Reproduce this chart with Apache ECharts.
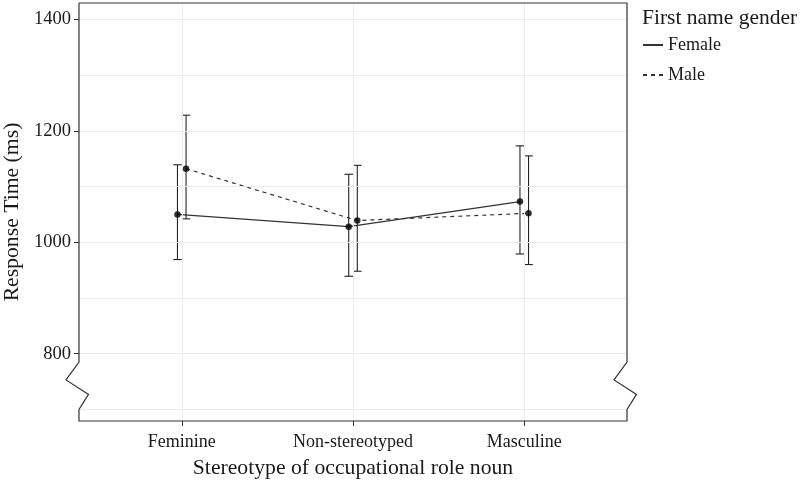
<!DOCTYPE html>
<html>
<head>
<meta charset="utf-8">
<script src="https://cdn.jsdelivr.net/npm/echarts@6/dist/echarts.min.js"></script>
<style>html,body{margin:0;padding:0;background:#fff}#c{width:800px;height:490px}</style>
</head>
<body>
<div id="c"></div>
<script>
const categories = ['Feminine', 'Non-stereotyped', 'Masculine'];
const femaleMean = [1050, 1028, 1073];
const femaleLow  = [969, 939, 979];
const femaleHigh = [1139, 1122, 1173];
const maleMean = [1132, 1039, 1052];
const maleLow  = [1042, 948, 960];
const maleHigh = [1228, 1138, 1155];
const yTickLabels = [800, 1000, 1200, 1400];
const yGridValues = [700, 800, 900, 1000, 1100, 1200, 1300, 1400];
const xPositions = [1, 2, 3];
const dodge = 0.025;

const FONT = '"Liberation Serif", "Times New Roman", serif';
const TXT = '#1a1a1a';
const YMIN = 679.3, YMAX = 1429.3;

const fPts = categories.map((c, i) => [xPositions[i] - dodge, femaleMean[i]]);
const mPts = categories.map((c, i) => [xPositions[i] + dodge, maleMean[i]]);
const fErr = categories.map((c, i) => [xPositions[i] - dodge, femaleLow[i], femaleHigh[i]]);
const mErr = categories.map((c, i) => [xPositions[i] + dodge, maleLow[i], maleHigh[i]]);

function errRender(params, api) {
  const x = api.value(0);
  const lo = api.coord([x, api.value(1)]);
  const hi = api.coord([x, api.value(2)]);
  const hw = api.size([dodge, 0])[0];
  const st = { stroke: '#222', lineWidth: 1.1 };
  return {
    type: 'group',
    children: [
      { type: 'line', shape: { x1: lo[0], y1: lo[1], x2: hi[0], y2: hi[1] }, style: st },
      { type: 'line', shape: { x1: lo[0] - hw, y1: lo[1], x2: lo[0] + hw, y2: lo[1] }, style: st },
      { type: 'line', shape: { x1: hi[0] - hw, y1: hi[1], x2: hi[0] + hw, y2: hi[1] }, style: st }
    ]
  };
}

const chart = echarts.init(document.getElementById('c'), null, { renderer: 'canvas' });
const gridLineStyle = { color: '#ebebeb', width: 1, type: 'solid' };

chart.setOption({
  animation: false,
  backgroundColor: '#fff',
  textStyle: { fontFamily: FONT },
  grid: { left: 79, top: 3, width: 548, height: 418, containLabel: false, outerBoundsMode: 'none' },
  title: {
    text: 'First name gender', left: 637, top: 2,
    textStyle: { fontFamily: FONT, fontSize: 21.5, fontWeight: 'normal', color: TXT }
  },
  legend: {
    data: [
      { name: 'Female', itemStyle: { opacity: 0 } },
      { name: 'Male', itemStyle: { opacity: 0 } }
    ],
    orient: 'vertical', left: 637, top: 31,
    itemWidth: 20, itemHeight: 14, itemGap: 12,
    textStyle: { fontFamily: FONT, fontSize: 18, color: TXT },
    inactiveColor: '#ccc'
  },
  xAxis: {
    type: 'value', min: 0.4, max: 3.6,
    axisLine: { show: false },
    splitLine: { show: false },
    axisTick: { show: true, customValues: xPositions, length: 5, lineStyle: { color: '#333' } },
    axisLabel: {
      customValues: xPositions, margin: 12,
      formatter: v => categories[Math.round(v) - 1] || '',
      fontFamily: FONT, fontSize: 18, color: TXT
    },
    name: 'Stereotype of occupational role noun', nameLocation: 'middle', nameGap: 36,
    nameTextStyle: { fontFamily: FONT, fontSize: 21.7, color: TXT }
  },
  yAxis: {
    type: 'value', min: YMIN, max: YMAX,
    axisLine: { show: false },
    splitLine: { show: false },
    axisTick: { show: true, customValues: yTickLabels, length: 5, lineStyle: { color: '#333' } },
    axisLabel: {
      customValues: yTickLabels, margin: 8,
      formatter: v => String(v),
      fontFamily: FONT, fontSize: 18.5, color: TXT
    },
    name: 'Response Time (ms)', nameLocation: 'middle', nameGap: 48, nameRotate: 90,
    nameTextStyle: { fontFamily: FONT, fontSize: 21.7, color: TXT }
  },
  series: [
    {
      name: 'grid', type: 'line', data: [], silent: true, z: 0,
      markLine: {
        silent: true, symbol: 'none', label: { show: false },
        lineStyle: gridLineStyle, animation: false,
        data: yGridValues.map(v => ({ yAxis: v })).concat(xPositions.map(v => ({ xAxis: v })))
      }
    },
    {
      name: 'Female', type: 'line', data: fPts, symbol: 'none', z: 3,
      lineStyle: { color: '#333', width: 1.2, type: 'solid' }, itemStyle: { color: '#333' }
    },
    {
      name: 'Male', type: 'line', data: mPts, symbol: 'none', z: 3,
      lineStyle: { color: '#333', width: 1.2, type: [4, 4] }, itemStyle: { color: '#333' }
    },
    { name: 'errF', type: 'custom', data: fErr, renderItem: errRender, encode: { x: 0, y: [1, 2] }, z: 4 },
    { name: 'errM', type: 'custom', data: mErr, renderItem: errRender, encode: { x: 0, y: [1, 2] }, z: 4 },
    { name: 'ptF', type: 'scatter', data: fPts, symbolSize: 6.5, itemStyle: { color: '#000' }, z: 5 },
    { name: 'ptM', type: 'scatter', data: mPts, symbolSize: 6.5, itemStyle: { color: '#000' }, z: 5 }
  ]
});

// Panel border with axis-break zigzags
const p = v => chart.convertToPixel({ gridIndex: 0 }, v);
const tl = p([0.4, YMAX]), br = p([3.6, YMIN]);
const x0 = tl[0], x1 = br[0], yT = tl[1], yB = br[1];
const yA = p([1, 785])[1], yBk = p([1, 753])[1], yC = p([1, 727])[1], yD = p([1, 700])[1];
const pts = [
  [x0, yT], [x0, yA], [x0 - 13, yBk], [x0 + 9.5, yC], [x0, yD], [x0, yB],
  [x1, yB], [x1, yD], [x1 + 9.5, yC], [x1 - 13, yBk], [x1, yA], [x1, yT], [x0, yT]
];
chart.setOption({
  graphic: [{
    type: 'polyline', shape: { points: pts }, z: 10, silent: true,
    style: { stroke: '#333', lineWidth: 1.2, fill: null }
  }]
});
</script>
</body>
</html>
